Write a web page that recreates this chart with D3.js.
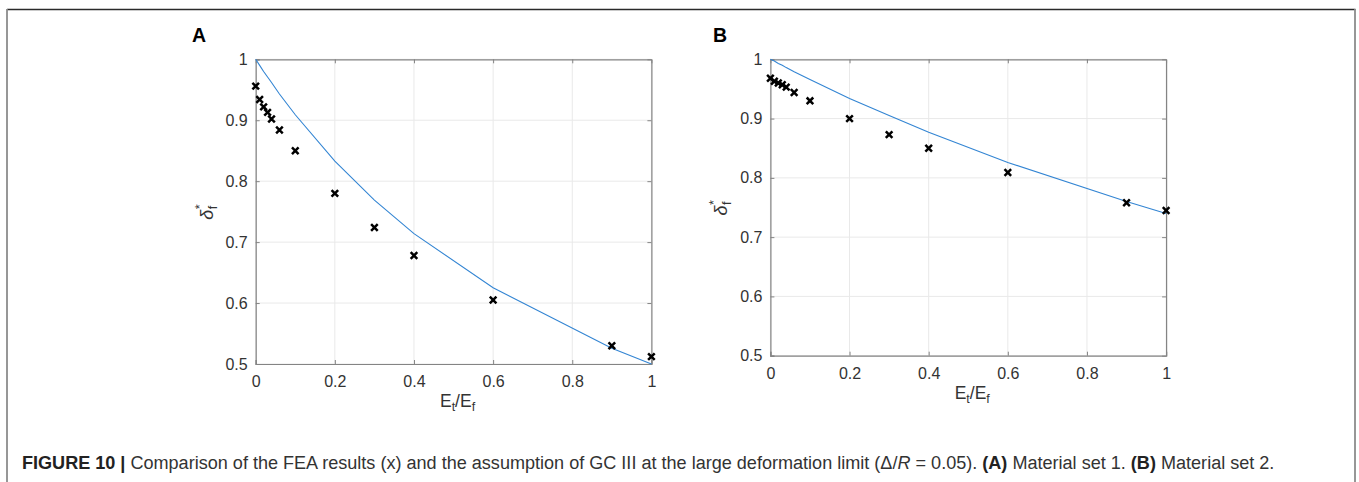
<!DOCTYPE html>
<html>
<head>
<meta charset="utf-8">
<script src="https://cdn.jsdelivr.net/npm/d3@7"></script>
<style>
  body { margin: 0; background: #fff; }
  svg { display: block; }
  text { font-family: "Liberation Sans", Arial, Helvetica, sans-serif; }
</style>
</head>
<body>
<svg id="fig" width="1359" height="482"></svg>
<script>
// ---------- data ----------
const ratios = [0, 0.01, 0.02, 0.03, 0.04, 0.06, 0.1, 0.2, 0.3, 0.4, 0.6, 0.9, 1];
const feaA = [0.956, 0.934, 0.922, 0.913, 0.902, 0.884, 0.850, 0.780, 0.724, 0.678, 0.605, 0.530, 0.512];
const gcA  = [1.000, 0.990, 0.980, 0.971, 0.962, 0.943, 0.909, 0.833, 0.769, 0.714, 0.625, 0.526, 0.500];
const feaB = [0.968, 0.963, 0.960, 0.957, 0.953, 0.944, 0.930, 0.900, 0.873, 0.850, 0.809, 0.758, 0.745];
const gcB  = [1.000, 0.997, 0.993, 0.990, 0.986, 0.979, 0.966, 0.934, 0.905, 0.877, 0.826, 0.760, 0.740];
const xTicks = [0, 0.2, 0.4, 0.6, 0.8, 1];
const yTicks = [0.5, 0.6, 0.7, 0.8, 0.9, 1];
const xTickLabels = ["0", "0.2", "0.4", "0.6", "0.8", "1"];
const yTickLabels = ["0.5", "0.6", "0.7", "0.8", "0.9", "1"];
const panelLabels = ["A", "B"];

const svg = d3.select("#fig");

// outer frame (open at bottom)
svg.append("line").attr("x1", 7).attr("x2", 1355.5).attr("y1", 9.5).attr("y2", 9.5)
   .attr("stroke", "#2a2a2a").attr("stroke-width", 1.3);
svg.append("line").attr("x1", 7).attr("x2", 7).attr("y1", 9).attr("y2", 482)
   .attr("stroke", "#8c8c8c").attr("stroke-width", 1.8);
svg.append("line").attr("x1", 1355).attr("x2", 1355).attr("y1", 9).attr("y2", 482)
   .attr("stroke", "#8c8c8c").attr("stroke-width", 1.8);

const panels = [
  { label: panelLabels[0], fea: feaA, gc: gcA, left: 255.7, right: 651.4, top: 59.3, bottom: 364, labelX: 192 },
  { label: panelLabels[1], fea: feaB, gc: gcB, left: 770.4, right: 1166.1, top: 59.3, bottom: 355.7, labelX: 713 }
];

const axisCol = "#848484";
const textCol = "#333333";

panels.forEach(p => {
  const x = d3.scaleLinear().domain([0, 1]).range([p.left, p.right]);
  const y = d3.scaleLinear().domain([0.5, 1]).range([p.bottom, p.top]);
  const g = svg.append("g");

  // grid
  g.selectAll(".gx").data(xTicks).join("line")
    .attr("x1", d => x(d)).attr("x2", d => x(d)).attr("y1", p.top).attr("y2", p.bottom)
    .attr("stroke", "#e9e9e9").attr("stroke-width", 1);
  g.selectAll(".gy").data(yTicks).join("line")
    .attr("y1", d => y(d)).attr("y2", d => y(d)).attr("x1", p.left).attr("x2", p.right)
    .attr("stroke", "#e9e9e9").attr("stroke-width", 1);

  // axes (ticks inward, box on)
  const styleAxis = (sel, labels) => {
    sel.attr("font-size", 16).attr("font-family", "'Liberation Sans', Arial, sans-serif");
    sel.select(".domain").attr("stroke", axisCol).attr("stroke-width", 1.2);
    sel.selectAll(".tick line").attr("stroke", axisCol).attr("stroke-width", 1);
    sel.selectAll(".tick text").attr("fill", textCol).style("font-size", "16px");
    if (!labels) sel.selectAll(".tick text").remove();
  };
  const bottom = g.append("g").attr("transform", `translate(0,${p.bottom})`)
    .call(d3.axisBottom(x).tickValues(xTicks).tickSize(-4).tickPadding(12)
      .tickFormat((d, i) => xTickLabels[i]));
  styleAxis(bottom, true);
  const top = g.append("g").attr("transform", `translate(0,${p.top})`)
    .call(d3.axisTop(x).tickValues(xTicks).tickSize(-4).tickSizeOuter(0));
  styleAxis(top, false);
  const left = g.append("g").attr("transform", `translate(${p.left},0)`)
    .call(d3.axisLeft(y).tickValues(yTicks).tickSize(-4).tickPadding(8)
      .tickFormat((d, i) => yTickLabels[i]));
  styleAxis(left, true);
  const right = g.append("g").attr("transform", `translate(${p.right},0)`)
    .call(d3.axisRight(y).tickValues(yTicks).tickSize(-4).tickSizeOuter(0));
  styleAxis(right, false);

  // GC III curve
  const line = d3.line().x((d, i) => x(ratios[i])).y(d => y(d));
  g.append("path").datum(p.gc).attr("d", line)
    .attr("fill", "none").attr("stroke", "#3385d3").attr("stroke-width", 1.1);

  // FEA markers
  g.selectAll(".m").data(p.fea).join("path")
    .attr("transform", (d, i) => `translate(${x(ratios[i])},${y(d)})`)
    .attr("d", "M-3.3,-3.3L3.3,3.3M-3.3,3.3L3.3,-3.3")
    .attr("stroke", "#000").attr("stroke-width", 2.5).attr("fill", "none");

  // panel label
  svg.append("text").attr("x", p.labelX).attr("y", 42)
    .style("font-size", "19.5px").style("font-weight", "bold").attr("fill", "#000")
    .text(p.label);

  // x label  E_t/E_f
  const xl = svg.append("text").attr("x", (p.left + p.right) / 2 + 4).attr("y", p.bottom + 43)
    .attr("text-anchor", "middle").attr("fill", textCol).style("font-size", "17.5px");
  xl.append("tspan").text("E");
  xl.append("tspan").attr("dy", 4).style("font-size", "12.5px").text("t");
  xl.append("tspan").attr("dy", -4).text("/E");
  xl.append("tspan").attr("dy", 4).style("font-size", "12.5px").text("f");

  // y label  δ_f^*
  const cy = (p.top + p.bottom) / 2 + 2;
  const yl = svg.append("g").attr("transform", `translate(${p.left - 43},${cy}) rotate(-90)`);
  yl.append("text").attr("x", -6).attr("y", 0).attr("fill", textCol)
    .style("font-size", "18px").style("font-style", "italic").text("δ");
  yl.append("text").attr("x", 4.5).attr("y", 4).attr("fill", textCol)
    .style("font-size", "12.5px").text("f");
  yl.append("text").attr("x", 4.5).attr("y", -9).attr("fill", textCol)
    .style("font-size", "12.5px").text("*");
});

// caption
const cap = svg.append("text").attr("x", 22).attr("y", 469).attr("fill", "#333")
  .style("font-size", "16px");
cap.append("tspan").style("font-weight", "bold").attr("fill", "#222").text("FIGURE 10 | ");
cap.append("tspan").text("Comparison of the FEA results (x) and the assumption of GC III at the large deformation limit (Δ/");
cap.append("tspan").style("font-style", "italic").text("R");
cap.append("tspan").text(" = 0.05). ");
cap.append("tspan").style("font-weight", "bold").attr("fill", "#222").text("(A)");
cap.append("tspan").text(" Material set 1. ");
cap.append("tspan").style("font-weight", "bold").attr("fill", "#222").text("(B)");
cap.append("tspan").text(" Material set 2.");
const w = cap.node().getComputedTextLength();
cap.style("font-size", (16 * 1253 / w).toFixed(2) + "px");
</script>
</body>
</html>
